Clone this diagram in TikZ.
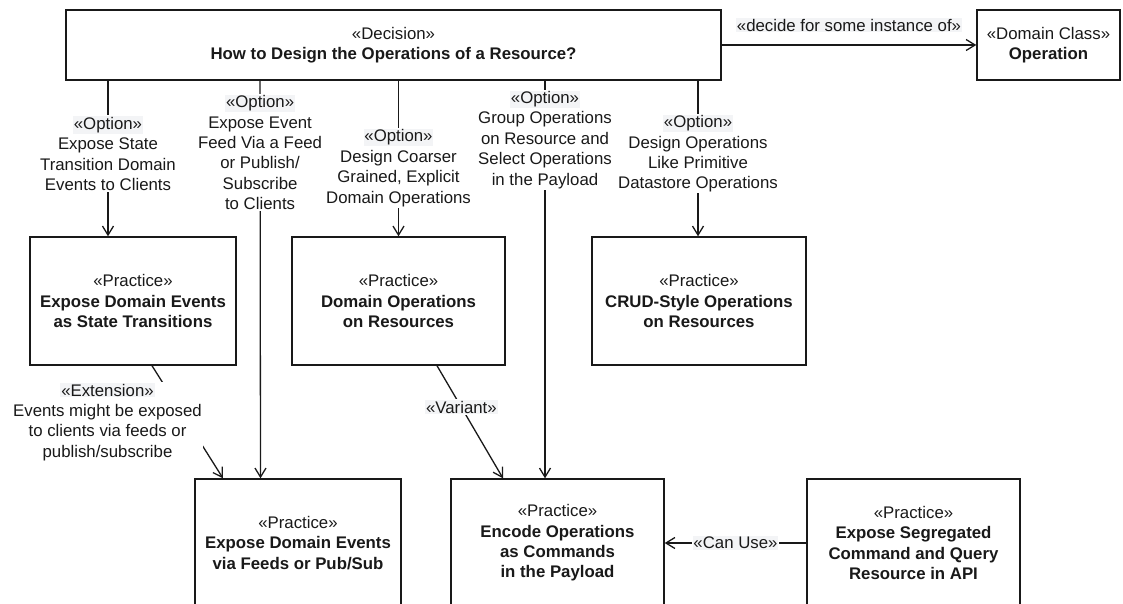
\documentclass[tikz,border=0pt]{standalone}
\usepackage{fontspec}
\setmainfont{Liberation Sans}
\usetikzlibrary{arrows.meta}
\definecolor{ink}{RGB}{25,25,25}
\definecolor{lblbg}{RGB}{243,244,246}
% stereotype line of an edge label, set on a pale tint
\newcommand\stereo[1]{{\setlength{\fboxsep}{0.8pt}\colorbox{lblbg}{#1}}}
\begin{document}
\begin{tikzpicture}[x=1pt,y=-1pt,
  every node/.style={font=\fontsize{16.8}{20.4}\selectfont, text=ink},
  box/.style={draw=ink, line width=1.4pt, fill=white, align=center, inner sep=2pt},
  conn/.style={draw=ink, line width=1.3pt, -{Straight Barb[length=9pt,width=11pt]}},
  lbl/.style={fill=white, align=center, inner sep=1pt}]
\useasboundingbox (0,0) rectangle (1123,604);

% decision and the domain class it refers to
\node[box, minimum width=655, minimum height=70] (dec) at (393.5,45)
  {«Decision»\\\textbf{How to Design the Operations of a Resource?}};
\node[box, minimum width=143, minimum height=70] (dom) at (1048.5,45)
  {«Domain Class»\\\textbf{Operation}};

% practices, middle row
\node[box, minimum width=206, minimum height=128] (A) at (133,301)
  {«Practice»\\\textbf{Expose Domain Events}\\\textbf{as State Transitions}};
\node[box, minimum width=213, minimum height=128] (B) at (398.5,301)
  {«Practice»\\\textbf{Domain Operations}\\\textbf{on Resources}};
\node[box, minimum width=214, minimum height=128] (C) at (699,301)
  {«Practice»\\\textbf{CRUD-Style Operations}\\\textbf{on Resources}};

% practices, bottom row
\node[box, minimum width=206, minimum height=128] (D) at (298,543)
  {«Practice»\\\textbf{Expose Domain Events}\\\textbf{via Feeds or Pub/Sub}};
\node[box, minimum width=213, minimum height=128] (E) at (557.5,543)
  {«Practice»\\\textbf{Encode Operations}\\\textbf{as Commands}\\\textbf{in the Payload}};
\node[box, minimum width=213, minimum height=128] (F) at (913.5,543)
  {«Practice»\\\textbf{Expose Segregated}\\\textbf{Command and Query}\\\textbf{Resource in API}};

% decision -> domain class
\draw[conn] (dec.east) -- node[midway, yshift=20, lbl]{\stereo{«decide for some instance of»}} (dom.west);

% options
\draw[conn] ([xshift=-285.5]dec.south) -- node[lbl, pos=0.468]
  {\stereo{«Option»}\\Expose State\\Transition Domain\\Events to Clients} ([xshift=-25]A.north);
\draw[conn] ([xshift=-133.5]dec.south) -- node[lbl, pos=0.18]
  {\stereo{«Option»}\\Expose Event\\Feed Via a Feed\\or Publish/\\Subscribe\\to Clients} ([xshift=-37.5]D.north);
\draw[conn] ([xshift=5]dec.south) -- node[lbl, pos=0.56]
  {\stereo{«Option»}\\Design Coarser\\Grained, Explicit\\Domain Operations} ([xshift=0]B.north);
\draw[conn] ([xshift=151.5]dec.south) -- node[lbl, pos=0.148]
  {\stereo{«Option»}\\Group Operations\\on Resource and\\Select Operations\\in the Payload} ([xshift=-12.5]E.north);
\draw[conn] ([xshift=304.5]dec.south) -- node[lbl, pos=0.468]
  {\stereo{«Option»}\\Design Operations\\Like Primitive\\Datastore Operations} ([xshift=-1]C.north);

% relations between practices
\draw[conn] ([xshift=19]A.south) -- node[lbl, pos=0.5, xshift=-80]
  {\stereo{«Extension»}\\Events might be exposed\\to clients via feeds or\\publish/subscribe} ([xshift=-75]D.north);
\draw[conn] ([xshift=38.5]B.south) -- node[lbl, pos=0.37]{\stereo{«Variant»}} ([xshift=-54.5]E.north);
\draw[conn] (F.west) -- node[lbl, midway]{\stereo{«Can Use»}} (E.east);
\end{tikzpicture}
\end{document}
